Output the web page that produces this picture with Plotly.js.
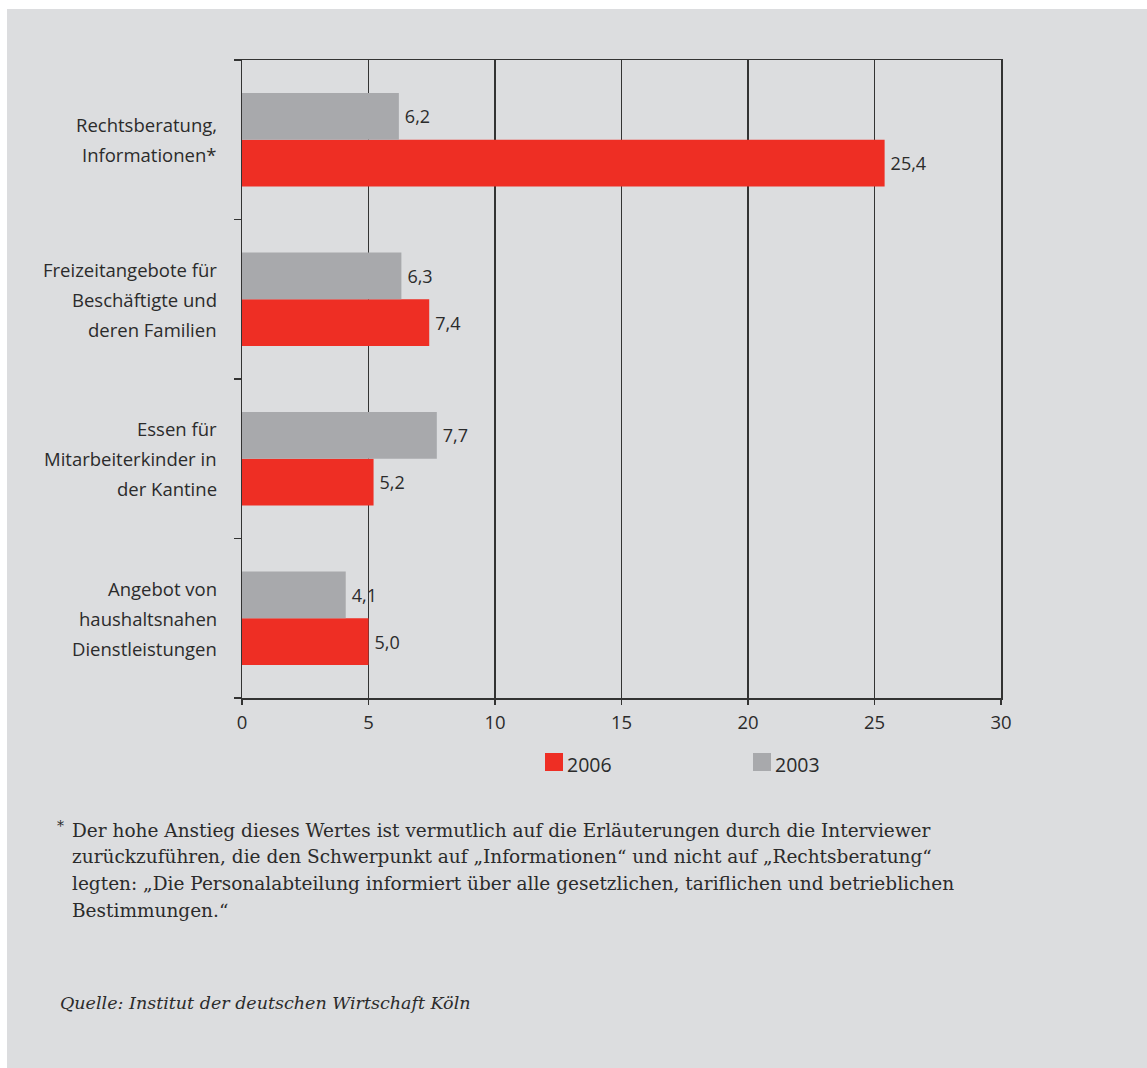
<!DOCTYPE html>
<html>
<head>
<meta charset="utf-8">
<script src="https://cdn.plot.ly/plotly-3.0.1.min.js"></script>
<style>
  html, body { margin: 0; padding: 0; background: #ffffff; width: 1147px; height: 1068px; overflow: hidden; }
  #chart { position: absolute; left: 7px; top: 9px; width: 1140px; height: 1059px; }
</style>
</head>
<body>
<div id="chart"></div>
<script>
// Categories, bottom to top
const categories = [
  ["Angebot von", "haushaltsnahen", "Dienstleistungen"],
  ["Essen für", "Mitarbeiterkinder in", "der Kantine"],
  ["Freizeitangebote für", "Beschäftigte und", "deren Familien"],
  ["Rechtsberatung,", "Informationen*"]
];
const seriesNames = ["2006", "2003"];
const values2006 = [5.0, 5.2, 7.4, 25.4];
const values2003 = [4.1, 7.7, 6.3, 6.2];
const xTicks = [0, 5, 10, 15, 20, 25, 30];

const footnoteLines = [
  "Der hohe Anstieg dieses Wertes ist vermutlich auf die Erläuterungen durch die Interviewer",
  "zurückzuführen, die den Schwerpunkt auf „Informationen“ und nicht auf „Rechtsberatung“",
  "legten: „Die Personalabteilung informiert über alle gesetzlichen, tariflichen und betrieblichen",
  "Bestimmungen.“"
];
const sourceText = "Quelle: Institut der deutschen Wirtschaft Köln";

const RED = "#ee2e24";
const GREY = "#a8a9ac";
const TXT = "#2b2b2b";
const SANS = "Open Sans, Noto Sans, sans-serif";
const SERIF = "DejaVu Serif, serif";

const catKeys = categories.map(c => c.join(" "));

const traces = [
  {
    type: "bar", orientation: "h", name: seriesNames[0],
    y: catKeys, x: values2006,
    marker: { color: RED, line: { width: 0 } },
    text: values2006, texttemplate: "\u2009%{x:.1f}", textposition: "outside",
    textfont: { family: SANS, size: 18, color: TXT },
    cliponaxis: false, hoverinfo: "none", showlegend: false
  },
  {
    type: "bar", orientation: "h", name: seriesNames[1],
    y: catKeys, x: values2003,
    marker: { color: GREY, line: { width: 0 } },
    text: values2003, texttemplate: "\u2009%{x:.1f}", textposition: "outside",
    textfont: { family: SANS, size: 18, color: TXT },
    cliponaxis: false, hoverinfo: "none", showlegend: false
  }
];

const annotations = [];
// Category labels, line by line
categories.forEach((lines, ci) => {
  const n = lines.length;
  lines.forEach((ln, li) => {
    annotations.push({
      xref: "paper", yref: "y", x: 0, y: ci,
      xanchor: "right", yanchor: "middle", xshift: -23,
      yshift: ((n - 1) / 2 - li) * 30,
      text: ln, showarrow: false, align: "right",
      font: { family: SANS, size: 18.5, color: TXT }
    });
  });
});

// Footnote
footnoteLines.forEach((ln, i) => {
  annotations.push({
    xref: "paper", yref: "paper", x: (70 - 242) / 759, y: (698 - 830 - i * 26.7) / 638,
    xanchor: "left", yanchor: "middle", text: ln, showarrow: false,
    font: { family: SERIF, size: 18.5, color: TXT }
  });
});
annotations.push({
  xref: "paper", yref: "paper", x: (55 - 242) / 759, y: (698 - 826) / 638,
  xanchor: "left", yanchor: "middle", text: "*", showarrow: false,
  font: { family: SERIF, size: 14, color: TXT }
});
annotations.push({
  xref: "paper", yref: "paper", x: (58 - 242) / 759, y: (698 - 1003) / 638,
  xanchor: "left", yanchor: "middle", text: "<i>" + sourceText + "</i>", showarrow: false,
  font: { family: SERIF, size: 17.5, color: TXT }
});

// Legend (custom)
const legendItems = [
  { name: seriesNames[0], color: RED, x0: 545 },
  { name: seriesNames[1], color: GREY, x0: 753 }
];
const shapes = [];
legendItems.forEach(it => {
  shapes.push({
    type: "rect", xref: "paper", yref: "paper",
    x0: (it.x0 - 242) / 759, x1: (it.x0 + 18 - 242) / 759,
    y0: (698 - 753) / 638, y1: (698 - 771) / 638,
    fillcolor: it.color, line: { width: 0 }
  });
  annotations.push({
    xref: "paper", yref: "paper", x: (it.x0 + 20 - 242) / 759, y: (698 - 764) / 638,
    xanchor: "left", yanchor: "middle", text: it.name, showarrow: false,
    font: { family: SANS, size: 19.5, color: TXT }
  });
});

const layout = {
  width: 1140, height: 1059,
  margin: { l: 235, r: 146, t: 51, b: 370 },
  paper_bgcolor: "#dcdddf",
  plot_bgcolor: "#dcdddf",
  separators: ",.",
  barmode: "group",
  bargap: 0.415,
  bargroupgap: 0,
  showlegend: false,
  font: { family: SANS, color: TXT },
  xaxis: {
    range: [0, 30], tickvals: xTicks, ticktext: xTicks.map(String),
    showgrid: true, gridcolor: "#333333", gridwidth: 1.4,
    showline: true, linecolor: "#333333", linewidth: 1.5, mirror: true,
    ticks: "outside", ticklen: 5, tickcolor: "#333333", tickwidth: 1.3,
    ticklabelstandoff: 2,
    tickfont: { family: SANS, size: 18.5, color: TXT },
    zeroline: false, fixedrange: true
  },
  yaxis: {
    type: "category", categoryorder: "array", categoryarray: catKeys,
    showticklabels: false, tickson: "boundaries",
    ticks: "outside", ticklen: 7, tickcolor: "#333333", tickwidth: 1.3,
    showgrid: false, showline: true, linecolor: "#333333", linewidth: 1.5, mirror: true,
    zeroline: false, fixedrange: true
  },
  annotations: annotations,
  shapes: shapes
};

Plotly.newPlot("chart", traces, layout, { staticPlot: true, displayModeBar: false });
</script>
</body>
</html>
